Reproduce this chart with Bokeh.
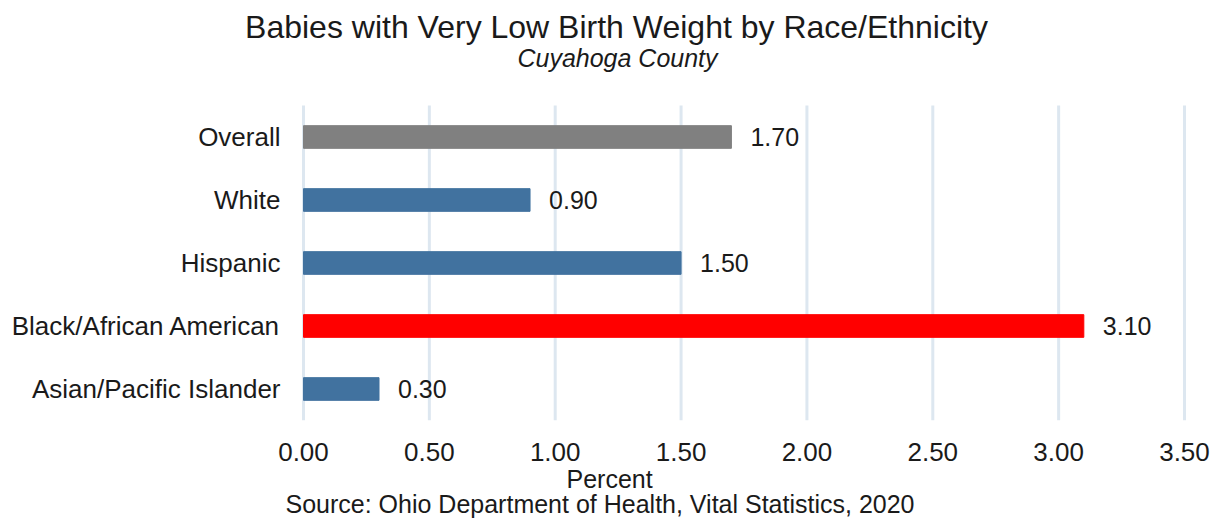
from bokeh.plotting import figure
from bokeh.models import ColumnDataSource, Title, Label, FixedTicker, Range1d, NumeralTickFormatter
from bokeh.core.properties import value
from bokeh.embed import file_html
from bokeh.resources import INLINE

categories = ["Overall", "White", "Hispanic", "Black/African American", "Asian/Pacific Islander"]
values = [1.70, 0.90, 1.50, 3.10, 0.30]
colors = ["#808080", "#41729f", "#41729f", "#ff0000", "#41729f"]
labels = ["%.2f" % v for v in values]
ticks = [0, 0.5, 1.0, 1.5, 2.0, 2.5, 3.0, 3.5]

title = "Babies with Very Low Birth Weight by Race/Ethnicity"
subtitle = "Cuyahoga County"
xlabel = "Percent"
source_note = "Source: Ohio Department of Health, Vital Statistics, 2020"

FONT = "Liberation Sans"
TXT = "#1a1a1a"

n = len(categories)
ypos = [n - 1 - i for i in range(n)]   # first category on top

src = ColumnDataSource(dict(y=ypos, val=values, col=colors, lab=labels, cat=categories,
                            zero=[0] * n))

# layout geometry (pixels)
W, H = 1212, 520
BORDER_R, BORDER_B = 24, 100
FRAME_W, FRAME_H = W - BORDER_R, H - BORDER_B
AXIS_LEFT_PX, AXIS_W_PX = 303, 881      # where 0 and the end of the value axis sit
ROW_PX = 63
xmax = ticks[-1]
px_per_unit = AXIS_W_PX / xmax
x_start = -AXIS_LEFT_PX / px_per_unit
x_end = xmax + (FRAME_W - AXIS_LEFT_PX - AXIS_W_PX) / px_per_unit

p = figure(width=W, height=H,
           y_range=Range1d(-0.5, -0.5 + FRAME_H / ROW_PX),
           x_range=Range1d(x_start, x_end), output_backend="svg", toolbar_location=None,
           min_border_left=0, min_border_right=BORDER_R, min_border_top=0,
           min_border_bottom=BORDER_B)

# vertical grid lines spanning only the category rows
p.segment(x0=ticks, x1=ticks, y0=[-0.5] * len(ticks), y1=[n - 0.5] * len(ticks),
          line_color="#dde7f0", line_width=3)

p.hbar(y="y", right="val", left=0, height=0.36, color="col", source=src)
p.text(x="val", y="y", text="lab", source=src, x_offset=19, text_baseline="middle",
       text_align="left", text_font=value(FONT), text_font_size="25px", text_color=TXT)
# category labels
p.text(x="zero", y="y", text="cat", source=src, x_offset=-23, text_baseline="middle",
       text_align="right", text_font=value(FONT), text_font_size="26px", text_color=TXT)

p.outline_line_color = None
p.xgrid.visible = False
p.ygrid.visible = False
p.yaxis.visible = False

p.xaxis.ticker = FixedTicker(ticks=ticks)
p.xaxis.formatter = NumeralTickFormatter(format="0.00")
p.xaxis.axis_line_color = None
p.xaxis.major_tick_line_color = None
p.xaxis.minor_tick_line_color = None
p.xaxis.major_label_text_font = FONT
p.xaxis.major_label_text_font_size = "26px"
p.xaxis.major_label_text_color = TXT
p.xaxis.major_label_standoff = 16

def add_label(text, x, y, size, style="normal"):
    p.add_layout(Label(x=x, y=y, x_units="screen", y_units="screen", text=text,
                       text_align="center", text_baseline="middle", text_font=FONT,
                       text_font_size=size, text_font_style=style, text_color=TXT))

add_label(title, 616, 394, "32px")
add_label(subtitle, 617, 363, "25px", "italic")

def add_title(text, place, offset, size, standoff, style="normal"):
    p.add_layout(Title(text=text, align="left", offset=offset, standoff=standoff,
                       text_font=FONT, text_font_size=size, text_font_style=style,
                       text_color=TXT), place)

add_title(xlabel, "below", 566, "25px", -2)
add_title(source_note, "below", 285, "25px", -8)

open("out.html", "w").write(file_html(p, INLINE))
